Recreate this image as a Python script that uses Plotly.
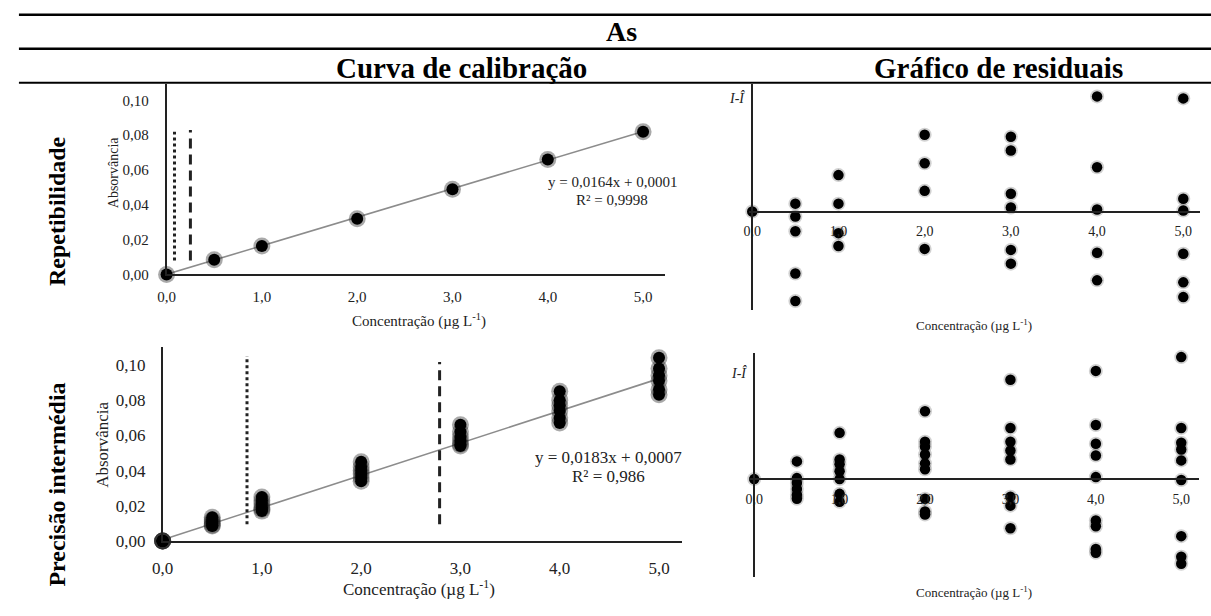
import plotly.graph_objects as go

W, H = 1211, 616
def X(px): return px / W
def Y(py): return 1 - py / H

# ---------------- data ----------------
conc_levels = [0.0, 1.0, 2.0, 3.0, 4.0, 5.0]
tick_text_x = ["0,0", "1,0", "2,0", "3,0", "4,0", "5,0"]
abs_ticks = [0.0, 0.02, 0.04, 0.06, 0.08, 0.10]

# Repetibilidade - calibration
rep_conc = [0.0, 0.5, 1.0, 2.0, 3.0, 4.0, 5.0]
rep_abs = [0.000, 0.0085, 0.0164, 0.032, 0.049, 0.066, 0.082]
rep_slope, rep_intercept = 0.0164, 0.0001
rep_lod_x, rep_lod_y = [0.083, 0.083], [0.008, 0.082]
rep_loq_x, rep_loq_y = [0.25, 0.25], [0.008, 0.083]

# Precisão intermédia - calibration (replicates)
pi_conc = [0.0] * 6 + [0.5] * 6 + [1.0] * 6 + [2.0] * 6 + [3.0] * 6 + [4.0] * 6 + [5.0] * 6
pi_abs = [0.000, 0.000, 0.000, 0.000, 0.000, 0.000,
          0.0135, 0.012, 0.011, 0.010, 0.009, 0.0085,
          0.025, 0.023, 0.021, 0.019, 0.018, 0.017,
          0.045, 0.042, 0.040, 0.038, 0.036, 0.034,
          0.066, 0.062, 0.059, 0.057, 0.055, 0.054,
          0.085, 0.080, 0.077, 0.074, 0.070, 0.067,
          0.104, 0.098, 0.094, 0.091, 0.086, 0.083]
pi_slope, pi_intercept = 0.0183, 0.0007
pi_lod_x, pi_lod_y = [0.85, 0.85], [0.0095, 0.105]
pi_loq_x, pi_loq_y = [2.79, 2.79], [0.0095, 0.1017]

# Residuals (arbitrary units)
rep_res_x = [0.0] + [0.5] * 5 + [1.0] * 4 + [2.0] * 4 + [3.0] * 6 + [4.0] * 5 + [5.0] * 6
rep_res_y = [0.0,
             0.8, -0.5, -2.0, -6.3, -9.1,
             3.7, 0.8, -2.2, -3.5,
             7.8, 4.9, 2.1, -3.8,
             7.6, 6.2, 1.8, 0.4, -3.9, -5.3,
             11.7, 4.5, 0.2, -4.2, -7.0,
             11.5, 1.3, 0.1, -4.3, -7.2, -8.7]

pi_res_x = [0.0] + [0.5] * 6 + [1.0] * 7 + [2.0] * 9 + [3.0] * 8 + [4.0] * 9 + [5.0] * 9
pi_res_y = [0.0,
            1.8, 0.1, -0.4, -1.0, -1.6, -2.0,
            4.7, 2.0, 1.5, 0.8, 0.0, -1.5, -2.3,
            6.9, 3.8, 3.3, 2.5, 1.6, 1.0, -2.0, -3.3, -3.6,
            10.1, 5.2, 3.8, 2.9, 2.0, -1.8, -2.7, -5.0,
            11.0, 5.5, 3.6, 2.4, 0.2, -4.2, -4.8, -7.1, -7.5,
            12.4, 5.2, 3.7, 3.0, 1.9, -0.1, -5.8, -7.9, -8.6]

FONT = "Liberation Serif"
fig = go.Figure()

def calib(xa, ya, cx, cy, slope, intercept, lodx, lody, loqx, loqy):
    fig.add_trace(go.Scatter(x=[0, 5], y=[intercept, slope * 5 + intercept], mode="lines",
                             line=dict(color="#8c8c8c", width=1.6), xaxis=xa, yaxis=ya,
                             showlegend=False, hoverinfo="skip"))
    fig.add_trace(go.Scatter(x=lodx, y=lody, mode="lines",
                             line=dict(color="#222", width=3, dash="dot"), xaxis=xa, yaxis=ya,
                             showlegend=False))
    fig.add_trace(go.Scatter(x=loqx, y=loqy, mode="lines",
                             line=dict(color="#222", width=3, dash="10px,6px"), xaxis=xa, yaxis=ya,
                             showlegend=False))
    fig.add_trace(go.Scatter(x=cx, y=cy, mode="markers",
                             marker=dict(size=17, color="rgba(40,40,40,0.4)", line=dict(width=0)),
                             xaxis=xa, yaxis=ya, cliponaxis=False, showlegend=False, hoverinfo="skip"))
    fig.add_trace(go.Scatter(x=cx, y=cy, mode="markers",
                             marker=dict(size=12, color="#000", line=dict(width=0)),
                             xaxis=xa, yaxis=ya, cliponaxis=False, showlegend=False))

def resid(xa, ya, rx, ry):
    fig.add_trace(go.Scatter(x=rx, y=ry, mode="markers",
                             marker=dict(size=14, color="rgba(0,0,0,0.18)", line=dict(width=0)),
                             xaxis=xa, yaxis=ya, cliponaxis=False, showlegend=False, hoverinfo="skip"))
    fig.add_trace(go.Scatter(x=rx, y=ry, mode="markers",
                             marker=dict(size=10.5, color="#000", line=dict(width=0)),
                             xaxis=xa, yaxis=ya, cliponaxis=False, showlegend=False))

calib("x", "y", rep_conc, rep_abs, rep_slope, rep_intercept, rep_lod_x, rep_lod_y, rep_loq_x, rep_loq_y)
resid("x2", "y2", rep_res_x, rep_res_y)
calib("x3", "y3", pi_conc, pi_abs, pi_slope, pi_intercept, pi_lod_x, pi_lod_y, pi_loq_x, pi_loq_y)
resid("x4", "y4", pi_res_x, pi_res_y)

axline = dict(showline=True, linecolor="#222", linewidth=1.5, showgrid=False, zeroline=False)

def cal_x(dom, rng, fs, tl):
    return dict(domain=dom, range=rng, tickvals=conc_levels, ticktext=tick_text_x,
                ticks="outside", ticklen=tl, tickcolor="rgba(0,0,0,0)",
                tickfont=dict(family=FONT, size=fs, color="#222"), **axline)

def cal_y(dom, rng, fs, tl):
    return dict(domain=dom, range=rng, tickvals=abs_ticks, tickformat=".2f",
                ticks="outside", ticklen=tl, tickcolor="rgba(0,0,0,0)",
                tickfont=dict(family=FONT, size=fs, color="#222"), **axline)

fig.update_layout(
    width=W, height=H, margin=dict(l=0, r=0, t=0, b=0),
    paper_bgcolor="white", plot_bgcolor="rgba(0,0,0,0)",
    separators=",.",
    showlegend=False,
    xaxis=dict(anchor="y", **cal_x([X(157), X(660)], [0, 5.23], 15, 8)),
    yaxis=dict(anchor="x", **cal_y([Y(279), Y(85)], [0, 0.1096], 15, 13)),
    xaxis3=dict(anchor="y3", **cal_x([X(153), X(677)], [0, 5.23], 17, 11)),
    yaxis3=dict(anchor="x3", **cal_y([Y(550), Y(353)], [0, 0.110], 17, 12)),
    xaxis2=dict(anchor="free", position=Y(215), domain=[X(745), X(1200)], range=[-0.035, 5.195],
                tickvals=conc_levels, ticktext=tick_text_x, ticks="outside", ticklen=7,
                tickcolor="rgba(0,0,0,0)", tickfont=dict(family=FONT, size=14, color="#222"), **axline),
    yaxis2=dict(anchor="free", position=X(748), domain=[Y(315), Y(85)], range=[-10, 13],
                showticklabels=False, **axline),
    xaxis4=dict(anchor="free", position=Y(487), domain=[X(745), X(1199)], range=[-0.058, 5.209],
                tickvals=conc_levels, ticktext=tick_text_x, ticks="outside", ticklen=7,
                tickcolor="rgba(0,0,0,0)", tickfont=dict(family=FONT, size=14, color="#222"), **axline),
    yaxis4=dict(anchor="free", position=X(750), domain=[Y(587), Y(359)], range=[-10, 12.8],
                showticklabels=False, **axline),
)

# table rules
for py, lw in [(15, 2.5), (49.5, 2.5), (84, 2)]:
    fig.add_shape(type="line", xref="paper", yref="paper", x0=X(8), x1=1, y0=Y(py), y1=Y(py),
                  line=dict(color="#000", width=lw))

def ann(text, px, py, size, bold=False, angle=0, italic=False, color="#000"):
    t = text
    if bold:
        t = "<b>" + t + "</b>"
    if italic:
        t = "<i>" + t + "</i>"
    fig.add_annotation(text=t, x=X(px), y=Y(py), xref="paper", yref="paper",
                       showarrow=False, xanchor="center", yanchor="middle",
                       textangle=angle, font=dict(family=FONT, size=size, color=color))

ann("As", 616, 32, 28, bold=True)
ann("Curva de calibração", 455, 69, 29, bold=True)
ann("Gráfico de residuais", 997, 69, 29, bold=True)
ann("Repetibilidade", 46, 215, 24, bold=True, angle=-90)
ann("Precisão intermédia", 46, 493, 24, bold=True, angle=-90)

ann("Absorvância", 103, 175, 14, angle=-90, color="#222")
ann("Concentração (µg L<sup>-1</sup>)", 412, 326, 15, color="#222")
ann("y = 0,0164x + 0,0001", 607, 185, 15, color="#222")
ann("R² = 0,9998", 607, 203, 15, color="#222")

ann("Absorvância", 93, 452, 17, angle=-90, color="#222")
ann("Concentração (µg L<sup>-1</sup>)", 412, 598, 17, color="#222")
ann("y = 0,0183x + 0,0007", 603, 465, 17, color="#222")
ann("R² = 0,986", 603, 484, 17, color="#222")

ann("I-Î", 733, 100, 14, italic=True, color="#222")
ann("Concentração (µg L<sup>-1</sup>)", 972, 330, 13, color="#222")
ann("I-Î", 735, 379, 14, italic=True, color="#222")
ann("Concentração (µg L<sup>-1</sup>)", 972, 602, 13, color="#222")

fig.write_html("out.html")
